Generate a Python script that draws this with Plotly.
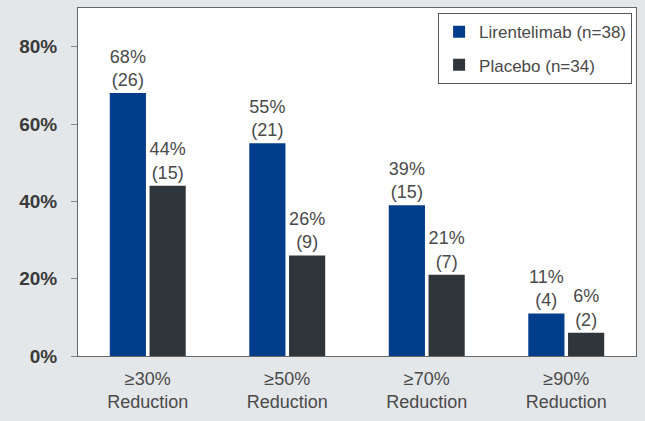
import plotly.graph_objects as go

categories = ["≥30%<br>Reduction", "≥50%<br>Reduction", "≥70%<br>Reduction", "≥90%<br>Reduction"]
lirentelimab_pct = [68, 55, 39, 11]
lirentelimab_n = [26, 21, 15, 4]
placebo_pct = [44, 26, 21, 6]
placebo_n = [15, 9, 7, 2]
y_ticks = [0, 20, 40, 60, 80]
y_tick_labels = ["0%", "20%", "40%", "60%", "80%"]

BLUE = "#023d8c"
DARK = "#2e363b"
BG = "#e4e7e9"
TXT = "#4a4a4a"

def labels(p, n):
    return [f"{a}%<br>({b})" for a, b in zip(p, n)]

fig = go.Figure()
fig.add_trace(go.Bar(
    x=categories, y=lirentelimab_pct, name="Lirentelimab (n=38)",
    legendgroup="a",
    marker=dict(color=BLUE, line=dict(width=0)),
    text=labels(lirentelimab_pct, lirentelimab_n), textposition="outside",
    textfont=dict(size=18, color=TXT, family="Liberation Sans, Arial"),
    cliponaxis=False,
))
fig.add_trace(go.Bar(
    x=categories, y=placebo_pct, name="Placebo (n=34)",
    legendgroup="b",
    marker=dict(color=DARK, line=dict(width=0)),
    text=labels(placebo_pct, placebo_n), textposition="outside",
    textfont=dict(size=18, color=TXT, family="Liberation Sans, Arial"),
    cliponaxis=False,
))

fig.update_layout(
    width=645, height=421,
    margin=dict(l=78, r=9, t=8, b=65),
    paper_bgcolor=BG, plot_bgcolor="white",
    barmode="group", bargap=0.43, bargroupgap=0.09,
    font=dict(family="Liberation Sans, Arial", color=TXT),
    showlegend=True,
    legend=dict(
        x=0.993, y=0.985, xanchor="right", yanchor="top",
        bgcolor="white", bordercolor="#555", borderwidth=1,
        font=dict(size=17, color=TXT), itemwidth=30,
        traceorder="grouped", tracegroupgap=8,
    ),
    xaxis=dict(
        showline=True, linecolor="#666", linewidth=1, mirror=True,
        ticks="", tickfont=dict(size=18, color=TXT),
        ticklabelstandoff=6,
        range=[-0.5, 3.5],
    ),
    yaxis=dict(
        range=[0, 90], tickvals=y_ticks,
        ticktext=[f"<b>{t}</b>" for t in y_tick_labels],
        showgrid=False, zeroline=False,
        showline=True, linecolor="#666", linewidth=1, mirror=True,
        ticks="outside", ticklen=6, tickcolor="#888",
        tickfont=dict(size=19, color="#3a3a3a", family="Liberation Sans, Arial"),
        ticklabelstandoff=10,
    ),
)
fig.write_html("out.html", config={"displayModeBar": False},
               post_script="document.body.style.margin='0';")
